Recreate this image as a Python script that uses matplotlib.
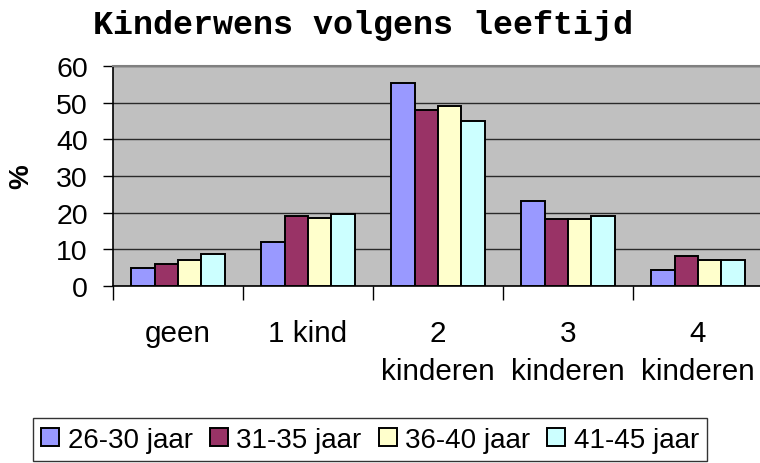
import numpy as np
import matplotlib.pyplot as plt
from matplotlib.ticker import FixedLocator

# Data
categories = ['geen', '1 kind', '2\nkinderen', '3\nkinderen', '4\nkinderen']
series_names = ['26-30 jaar', '31-35 jaar', '36-40 jaar', '41-45 jaar']
v_26_30 = [4.9, 12.0, 55.5, 23.3, 4.4]
v_31_35 = [5.9, 19.1, 48.0, 18.4, 8.2]
v_36_40 = [7.1, 18.5, 49.0, 18.3, 7.1]
v_41_45 = [8.8, 19.7, 45.1, 19.1, 7.1]
colors = ['#9999FF', '#993366', '#FFFFCC', '#CCFFFF']

plt.rcParams['font.family'] = ['Liberation Sans', 'DejaVu Sans']

fig = plt.figure(figsize=(7.6, 4.64), dpi=100)
ax = fig.add_axes([113 / 760, 1 - 287 / 464, 650 / 760, 220 / 464])
ax.set_facecolor('#C0C0C0')

x = np.arange(len(categories))
w = 0.18
for i, (vals, name) in enumerate(zip([v_26_30, v_31_35, v_36_40, v_41_45], series_names)):
    ax.bar(x + (i - 1.5) * w, vals, w, color=colors[i], edgecolor='black',
           linewidth=1.4, label=name, zorder=3)

ax.set_xlim(-0.5, len(categories) - 0.5)
ax.set_ylim(0, 60)
ax.set_yticks(range(0, 61, 10))
ax.yaxis.grid(True, color='#2a2a2a', linewidth=1, zorder=0)
ax.set_axisbelow(True)

ax.set_xticks(x)
ax.set_xticklabels(categories, fontsize=21.3, linespacing=1.45)
ax.xaxis.set_minor_locator(FixedLocator(np.arange(-0.5, len(categories), 1.0)))
ax.tick_params(axis='x', which='major', length=0, pad=24)
ax.tick_params(axis='x', which='minor', length=10, width=1, color='black')
ax.tick_params(axis='y', labelsize=20.5, length=7, width=1, pad=11)

ax.spines['right'].set_visible(False)
ax.spines['top'].set_color('#808080')
ax.spines['top'].set_linewidth(1.5)
ax.spines['left'].set_linewidth(1.2)
ax.spines['bottom'].set_linewidth(1.2)

ax.set_ylabel('%', fontsize=20, fontweight='bold', labelpad=16)

fig.text(0.477, 0.946, 'Kinderwens volgens leeftijd', ha='center', va='center',
         fontsize=24, fontweight='bold', family=['Liberation Mono', 'DejaVu Sans Mono'])

leg = fig.legend(loc='center', bbox_to_anchor=(0.487, 0.050), ncol=4, fontsize=20,
                 frameon=True, fancybox=False, edgecolor='black', handlelength=0.65,
                 handleheight=0.65, handletextpad=0.3, columnspacing=0.62,
                 borderpad=0.3, borderaxespad=0)
leg.get_frame().set_linewidth(1)

plt.savefig('out.png', dpi=100)
